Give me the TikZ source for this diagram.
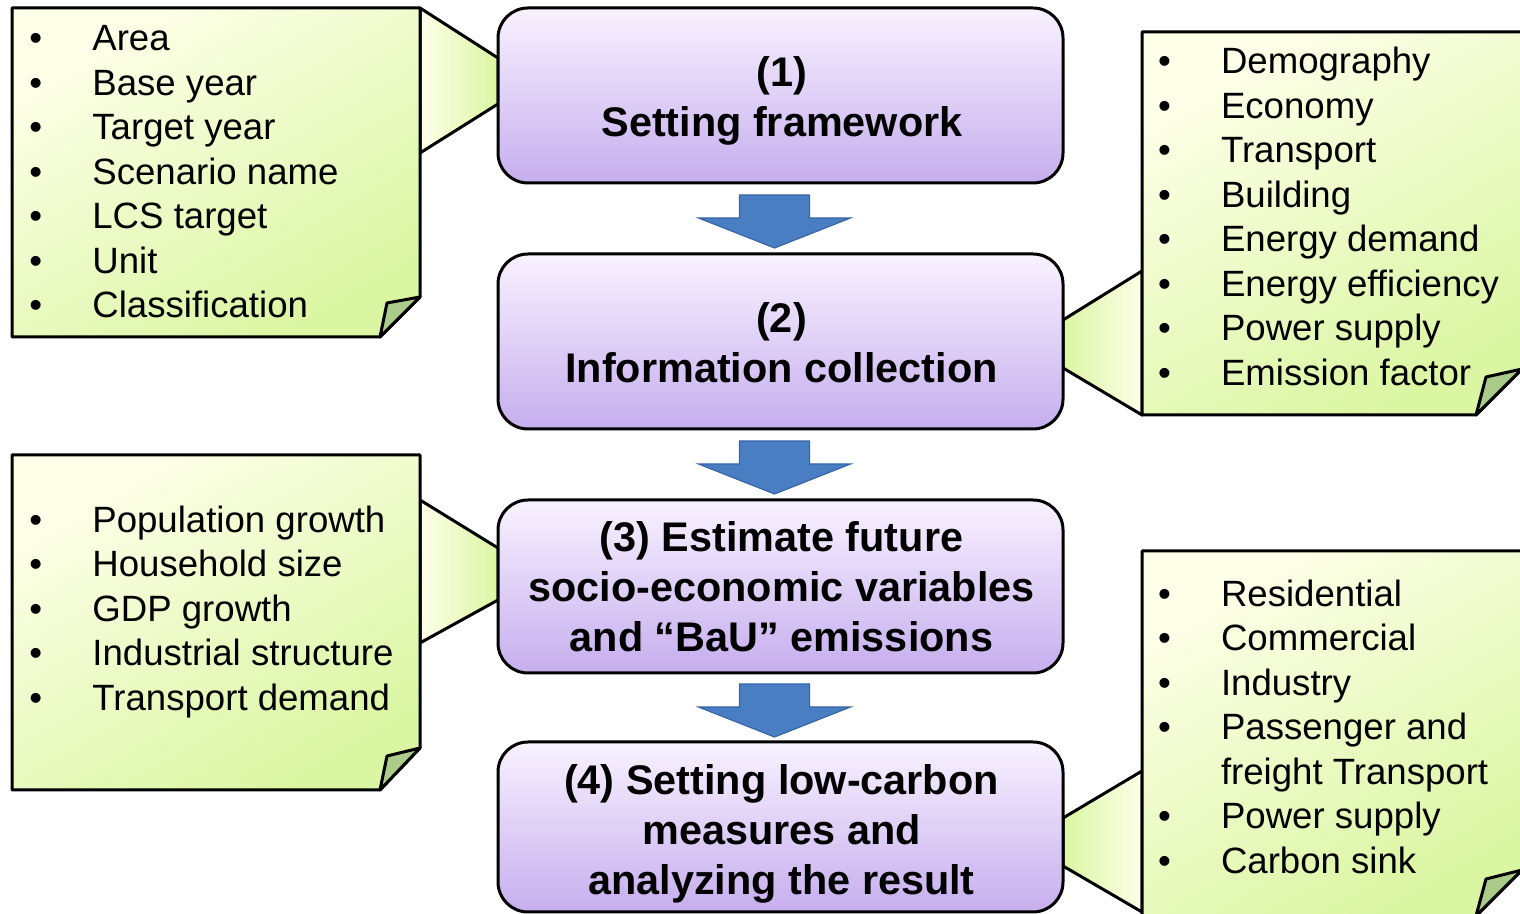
\documentclass[tikz,border=0pt]{standalone}
\usepackage{fontspec}
\setmainfont{Liberation Sans}
\usepackage{tikz}
\usetikzlibrary{calc,positioning}

\definecolor{noteLight}{HTML}{FEFFE9}
\definecolor{noteGreen}{HTML}{DAF6A2}
\definecolor{noteFlap}{HTML}{AACB8A}
\definecolor{boxTop}{HTML}{F8F2FF}
\definecolor{boxBottom}{HTML}{C6AEEE}
\definecolor{arrowBlue}{HTML}{4A7EC2}
\definecolor{arrowEdge}{HTML}{3766A6}

\newcommand{\itm}[1]{\makebox[31.5pt][l]{\textbullet}#1\strut}
\newcommand{\itmcont}[1]{\makebox[31.5pt][l]{}#1\strut}

\begin{document}
\begin{tikzpicture}[x=0.5pt,y=0.5pt,
		stagebox/.style={draw,line width=1.5pt,rounded corners=15pt,top color=boxTop,bottom color=boxBottom,
			minimum width=282.5pt,inner sep=0pt},
		stagetext/.style={align=center,inner sep=0pt,font=\fontsize{20.7}{25}\selectfont\bfseries},
		notepaper/.style={draw,line width=1.5pt,line join=round,top color=noteLight,bottom color=noteGreen,shading angle=30},
		flap/.style={draw,line width=1.5pt,line join=round,fill=noteFlap},
		wedge/.style={draw,line width=1.5pt,line join=round},
		listtext/.style={anchor=west,align=left,inner sep=0pt,font=\fontsize{18.3}{22.25}\selectfont},
		blockarrow/.style={fill=arrowBlue,draw=arrowEdge,line width=0.6pt}]
				 % \draw[color=gray,step=10, help lines,opacity=0.3] (0,0) grid (1520,914); %help grids
				 % \draw[color=red,step=100, opacity=0.4] (0,0) grid (1520,914); %help grids
				 \useasboundingbox (0,0) rectangle (1520,914);
				 % callout wedges
				 \shadedraw[wedge,left color=noteLight,right color=noteGreen] (420,906)--(498,856)--(498,810)--(420,761)--cycle;
				 \shadedraw[wedge,left color=noteLight,right color=noteGreen] (420,414)--(498,366)--(498,314)--(420,271)--cycle;
				 \shadedraw[wedge,left color=noteGreen,right color=noteLight] (1142,643)--(1063,594)--(1063,546)--(1142,499)--cycle;
				 \shadedraw[wedge,left color=noteGreen,right color=noteLight] (1142,143)--(1063,96)--(1063,48)--(1142,2)--cycle;
				 % notes
				 \shadedraw[notepaper] (12,906)--(420,906)--(420,617)--(380,577)--(12,577)--cycle;
				 \draw[flap] (380,577)--(387,611)--(420,617)--cycle;
				 \shadedraw[notepaper] (12,459)--(420,459)--(420,166)--(380,124)--(12,124)--cycle;
				 \draw[flap] (380,124)--(387,158)--(420,166)--cycle;
				 \shadedraw[notepaper] (1142,882)--(1522,882)--(1522,545)--(1476,499)--(1142,499)--cycle;
				 \draw[flap] (1476,499)--(1486,537)--(1522,545)--cycle;
				 \shadedraw[notepaper] (1142,363)--(1522,363)--(1522,44)--(1476,-2)--(1142,-2)--cycle;
				 \draw[flap] (1476,-2)--(1486,35)--(1522,44)--cycle;
				 % note texts
				 \node[listtext] (t1) at (29,738.5) {\itm{Area}\\\itm{Base year}\\\itm{Target year}\\\itm{Scenario name}\\\itm{LCS target}\\\itm{Unit}\\\itm{Classification}};
				 \node[listtext] (t2) at (1157.6,693.5) {\itm{Demography}\\\itm{Economy}\\\itm{Transport}\\\itm{Building}\\\itm{Energy demand}\\\itm{Energy efficiency}\\\itm{Power supply}\\\itm{Emission factor}};
				 \node[listtext] (t3) at (29,301.5) {\itm{Population growth}\\\itm{Household size}\\\itm{GDP growth}\\\itm{Industrial structure}\\\itm{Transport demand}};
				 \node[listtext] (t4) at (1157.6,183) {\itm{Residential}\\\itm{Commercial}\\\itm{Industry}\\\itm{Passenger and}\\\itmcont{freight Transport}\\\itm{Power supply}\\\itm{Carbon sink}};
				 % steps
				 \node[stagebox,minimum height=87.5pt] (s1) at (780.5,818.5) {};
				 \node[stagebox,minimum height=87.5pt] (s2) at (780.5,572.5) {};
				 \node[stagebox,minimum height=86.5pt] (s3) at (780.5,327.5) {};
				 \node[stagebox,minimum height=85pt] (s4) at (780.5,87) {};
				 \node[stagetext] (st1) at (782,813.5) {(1)\\Setting framework};
				 \node[stagetext] (st2) at (781.5,571.5) {(2)\\Information collection};
				 \node[stagetext] (st3) at (781.5,327.5) {(3) Estimate future\\socio-economic variables\\and “BaU” emissions};
				 \node[stagetext] (st4) at (781.5,80) {(4) Setting low-carbon\\measures and\\analyzing the result};
				 % block arrows between steps
				 \foreach \a/\b [count=\i] in {s1/s2,s2/s3,s3/s4}{
								 \coordinate (m\i) at ($(\a.south)!0.5!(\b.north)+(-6,-3)$);
								 \filldraw[blockarrow,shift={(m\i)}] (-35,26.5)--(35,26.5)--(35,3.5)--(76,3.5)--(0,-26.5)--(-76,3.5)--(-35,3.5)--cycle;
				 }
\end{tikzpicture}
\end{document}
